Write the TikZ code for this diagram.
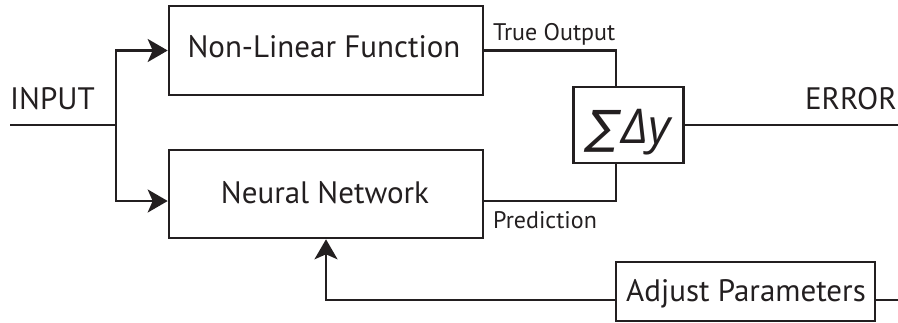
\documentclass[tikz,border=0pt]{standalone}
\usepackage{fontspec}
\setmainfont{PT Sans}
\newfontfamily\sigfont{Open Sans}
\newfontfamily\sumfont[FakeSlant=0.2]{DejaVu Sans}
\usetikzlibrary{arrows.meta}
\definecolor{ink}{HTML}{231F20}
\begin{document}
\begin{tikzpicture}[x=1pt,y=-1pt,
 box/.style={draw=ink, line width=2.6pt, rectangle, inner sep=0pt},
 lbl/.style={inner sep=0pt, anchor=base, font=\fontsize{31}{31}\selectfont, text=ink},
 small/.style={inner sep=0pt, anchor=base west, font=\fontsize{24}{24}\selectfont, text=ink},
 conn/.style={draw=ink, line width=2.6pt},
 arr/.style={conn, -{Stealth[length=20pt,width=23pt,inset=5pt]}}]
\useasboundingbox (0,0) rectangle (898,322);
% boxes
\node[box, minimum width=314pt, minimum height=89pt] (nlf) at (326,50.5) {};
\node[box, minimum width=314pt, minimum height=88pt] (nn) at (326,194) {};
\node[box, minimum width=110pt, minimum height=76pt] (sum) at (628.5,125) {};
\node[box, minimum width=259pt, minimum height=59pt] (adj) at (745.5,291.5) {};
% texts
\node[lbl] (nlft) at (324,57) {Non-Linear Function};
\node[lbl] (nnt) at (325,203) {Neural Network};
\node[lbl] (adjt) at (746,301) {Adjust Parameters};
\node[lbl, anchor=base west] (inp) at (10,109) {INPUT};
\node[lbl, anchor=base east] (err) at (897,109) {ERROR};
\node[small] (to) at (493,40) {True Output};
\node[small] (pr) at (493,228) {Prediction};
\node[inner sep=0pt, anchor=base, text=ink] (sg) at (628,143) {{\sumfont\fontsize{46}{46}\selectfont ∑}\hspace{5pt}{\sigfont\itshape\fontsize{48}{48}\selectfont Δy}};
% coordinates
\coordinate (in0) at (10,125);
\coordinate (br) at (116,125);
\coordinate (err0) at (898,125);
\coordinate (fb) at (326,300);
\coordinate (adjr) at (898,300);
% connectors
\draw[conn] (in0) -- (br);
\draw[arr] (br) |- (nlf.west);
\draw[arr] (br) |- ([yshift=-7pt]nn.west);
\draw[conn] (nlf.east) -| ([xshift=-12.5pt]sum.north);
\draw[conn] ([yshift=-7pt]nn.east) -| ([xshift=-12.5pt]sum.south);
\draw[conn] (sum.east) -- (err0);
\draw[arr] ([yshift=-8.5pt]adj.west) -| (fb |- nn.south);
\draw[conn] ([yshift=-8.5pt]adj.east) -- (adjr);
\end{tikzpicture}
\end{document}
